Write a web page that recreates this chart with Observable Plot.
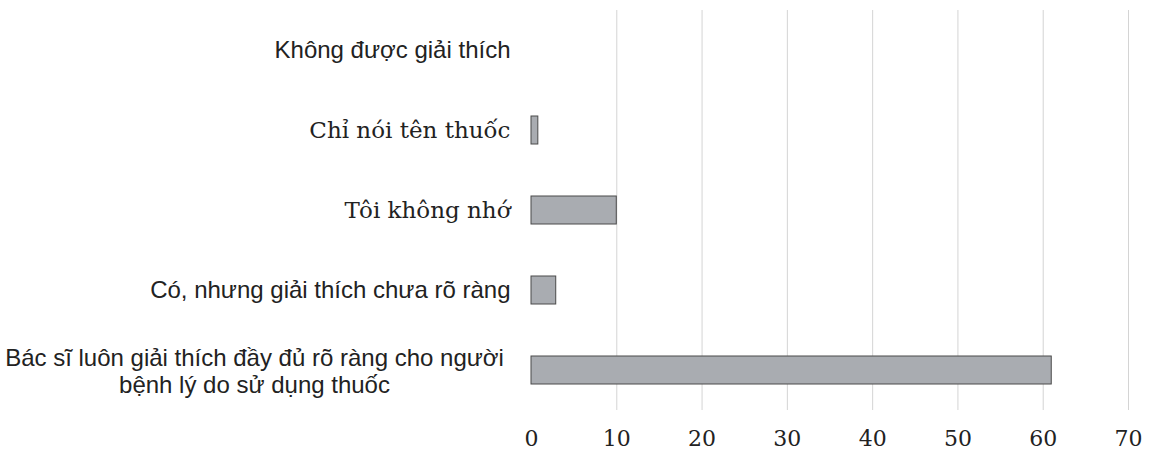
<!DOCTYPE html>
<html>
<head>
<meta charset="utf-8">
<script src="https://cdn.jsdelivr.net/npm/d3@7"></script>
<script src="https://cdn.jsdelivr.net/npm/@observablehq/plot@0.6"></script>
<style>
  html, body { margin: 0; padding: 0; background: #fff; }
</style>
</head>
<body>
<div id="chart"></div>
<script>
// Data
const categories = [
  "Không được giải thích",
  "Chỉ nói tên thuốc",
  "Tôi không nhớ",
  "Có, nhưng giải thích chưa rõ ràng",
  "Bác sĩ luôn giải thích đầy đủ rõ ràng cho người\nbệnh lý do sử dụng thuốc"
];
const values = [0, 0.8, 10, 2.9, 61];
const xTicks = [0, 10, 20, 30, 40, 50, 60, 70];

const rows = categories.map((c, i) => ({category: c, value: values[i]}));

// Styling (not data)
const serifLabels = new Set(["Chỉ nói tên thuốc", "Tôi không nhớ"]);
const sansFont = "'Liberation Sans', Arial, sans-serif";
const serifFont = "'DejaVu Serif', serif";
const singleLine = rows.filter(d => !d.category.includes("\n"));
const multiLine = rows.filter(d => d.category.includes("\n"));

const chart = Plot.plot({
  width: 1153,
  height: 452,
  marginLeft: 531,
  marginRight: 25,
  marginTop: 10,
  marginBottom: 42,
  style: {background: "#fff", color: "#222"},
  x: {domain: [0, 70], ticks: xTicks, label: null},
  y: {domain: categories, paddingInner: 0.65, paddingOuter: 0.325, label: null, axis: null},
  marks: [
    Plot.gridX(xTicks.filter(t => t > 0), {stroke: "#d4d4d4", strokeOpacity: 1, strokeWidth: 1}),
    Plot.barX(rows.filter(d => d.value > 0), {
      x: "value", y: "category",
      fill: "#a9acb1", stroke: "#4a4a4a", strokeWidth: 1
    }),
    Plot.axisX({
      ticks: xTicks, tickSize: 0, tickPadding: 20, label: null,
      fontSize: 22, fontFamily: serifFont, fill: "#222"
    }),
    Plot.text(singleLine.filter(d => !serifLabels.has(d.category)), {
      y: "category", text: "category", frameAnchor: "left", dx: -21,
      textAnchor: "end", fontSize: 24, fontFamily: sansFont, fill: "#222"
    }),
    Plot.text(singleLine.filter(d => serifLabels.has(d.category)), {
      y: "category", text: "category", frameAnchor: "left", dx: -21,
      textAnchor: "end", fontSize: 23, fontFamily: serifFont, fill: "#222"
    }),
    Plot.text(multiLine, {
      y: "category", text: "category", frameAnchor: "left", dx: -277,
      textAnchor: "middle", lineHeight: 1.13, fontSize: 24, fontFamily: sansFont, fill: "#222"
    })
  ]
});
document.getElementById("chart").appendChild(chart);
</script>
</body>
</html>
